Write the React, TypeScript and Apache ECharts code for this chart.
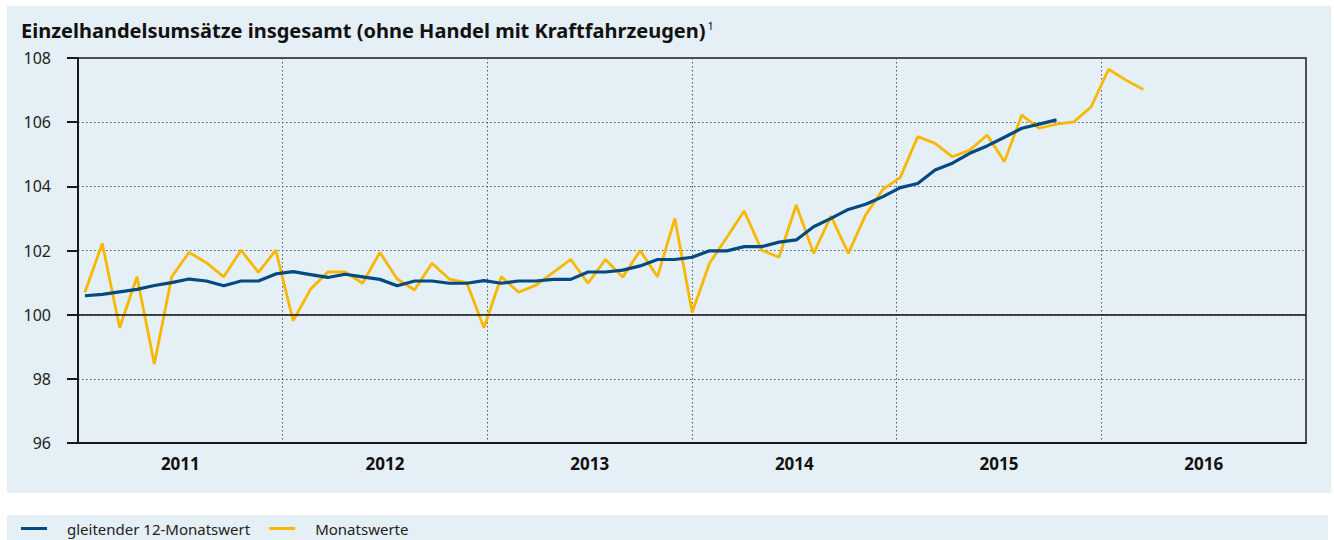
import React, { useEffect, useRef } from "react";
import * as echarts from "echarts";

// Year categories (x axis labels)
const years = ["2011", "2012", "2013", "2014", "2015", "2016"];

// Monthly values, Jan 2011 – Feb 2016
const monthlyValues = [
  100.7, 102.22, 99.59, 101.18, 98.46, 101.18, 101.94, 101.62, 101.18, 102.01, 101.32, 102.01,
  99.81, 100.79, 101.33, 101.33, 100.98, 101.94, 101.11, 100.77, 101.6, 101.11, 101.0, 99.59,
  101.18, 100.7, 100.92, 101.32, 101.72, 100.98, 101.72, 101.17, 102.0, 101.18, 103.0, 100.07,
  101.6, 102.41, 103.23, 102.01, 101.79, 103.42, 101.91, 103.07, 101.91, 103.11, 103.91, 104.28,
  105.55, 105.34, 104.92, 105.13, 105.6, 104.77, 106.22, 105.81, 105.94, 106.01, 106.48, 107.65,
  107.31, 107.02,
];

// Moving 12-month value, Jan 2011 – Sep 2015
const rollingValues = [
  100.59, 100.63, 100.71, 100.79, 100.91, 101.0, 101.11, 101.05, 100.9, 101.05, 101.05, 101.27,
  101.34, 101.25, 101.16, 101.26, 101.18, 101.1, 100.9, 101.05, 101.05, 100.98, 100.98, 101.06,
  100.98, 101.05, 101.05, 101.1, 101.1, 101.33, 101.33, 101.39, 101.52, 101.72, 101.72, 101.79,
  101.99, 101.99, 102.12, 102.12, 102.26, 102.33, 102.74, 103.0, 103.28, 103.44, 103.68, 103.96,
  104.09, 104.51, 104.72, 105.03, 105.26, 105.53, 105.81, 105.94, 106.07,
];

const seriesNames = ["gleitender 12-Monatswert", "Monatswerte"];
const titleText = "Einzelhandelsumsätze insgesamt (ohne Handel mit Kraftfahrzeugen)";

const PANEL = "#e5eff6";
const BLUE = "#034a80";
const YELLOW = "#f9b800";
const DARK = "#1a1a1a";
const FONT = "'Noto Sans', 'Open Sans', sans-serif";

export default function App() {
  const ref = useRef<HTMLDivElement>(null);

  useEffect(() => {
    if (!ref.current) return;
    const chart = echarts.init(ref.current, null, { renderer: "svg" });
    chart.setOption({
      animation: false,
      backgroundColor: "#ffffff",
      textStyle: { fontFamily: FONT },
      graphic: [
        {
          type: "rect",
          z: -10,
          silent: true,
          shape: { x: 7, y: 6, width: 1324, height: 487 },
          style: { fill: PANEL },
        },
        {
          type: "rect",
          z: -10,
          silent: true,
          shape: { x: 7, y: 515, width: 1321, height: 30 },
          style: { fill: PANEL },
        },
      ],
      title: {
        text: titleText + "{sup|1}",
        left: 16,
        top: 15,
        textStyle: {
          fontFamily: FONT,
          fontSize: 20,
          fontWeight: "bold",
          color: "#111",
          rich: {
            sup: { fontSize: 11, fontWeight: "normal", color: "#111", verticalAlign: "top", padding: [0, 0, 8, 2] },
          },
        },
      },
      legend: {
        data: seriesNames,
        left: 16,
        top: 516,
        icon: "rect",
        itemWidth: 26,
        itemHeight: 3,
        itemGap: 19,
        textStyle: { fontFamily: FONT, fontSize: 15, color: "#222", padding: [0, 0, 0, 15] },
      },
      grid: {
        left: 78,
        top: 58,
        width: 1228,
        height: 385,
        show: true,
        borderColor: DARK,
        borderWidth: 1.5,
        backgroundColor: "transparent",
      },
      xAxis: [
        {
          type: "category",
          data: years,
          boundaryGap: true,
          axisLine: { onZero: false, lineStyle: { color: DARK, width: 2 } },
          axisTick: { show: false },
          axisLabel: { fontSize: 17, fontWeight: "bold", color: "#111", margin: 12, fontFamily: FONT },
          splitLine: { show: true, lineStyle: { type: [1.5, 2.5], color: "#555", width: 1 } },
        },
        {
          type: "value",
          min: -0.4,
          max: 70.38,
          show: false,
        },
      ],
      yAxis: {
        type: "value",
        min: 96,
        max: 108,
        interval: 2,
        axisLine: { show: true, onZero: false, lineStyle: { color: DARK, width: 2 } },
        axisTick: { show: true, length: 11, lineStyle: { color: DARK, width: 2 } },
        axisLabel: { fontSize: 16, color: "#222", margin: 27, fontFamily: FONT },
        splitLine: { show: true, lineStyle: { type: [1.5, 2.5], color: "#555", width: 1 } },
      },
      series: [
        {
          name: "ref100",
          type: "line",
          xAxisIndex: 1,
          data: [],
          z: 1,
          markLine: {
            silent: true,
            symbol: "none",
            label: { show: false },
            lineStyle: { color: "#111", type: "solid", width: 1.5 },
            data: [{ yAxis: 100 }],
          },
        },
        {
          name: seriesNames[1],
          type: "line",
          xAxisIndex: 1,
          data: monthlyValues.map((v, i) => [i, v]),
          showSymbol: false,
          color: YELLOW,
          lineStyle: { color: YELLOW, width: 2.8 },
          z: 2,
        },
        {
          name: seriesNames[0],
          type: "line",
          xAxisIndex: 1,
          data: rollingValues.map((v, i) => [i, v]),
          showSymbol: false,
          color: BLUE,
          lineStyle: { color: BLUE, width: 3.2 },
          z: 3,
        },
      ],
    });
    return () => chart.dispose();
  }, []);

  return (
    <div
      ref={ref}
      style={{ position: "absolute", left: 0, top: 0, width: 1334, height: 540 }}
    />
  );
}
